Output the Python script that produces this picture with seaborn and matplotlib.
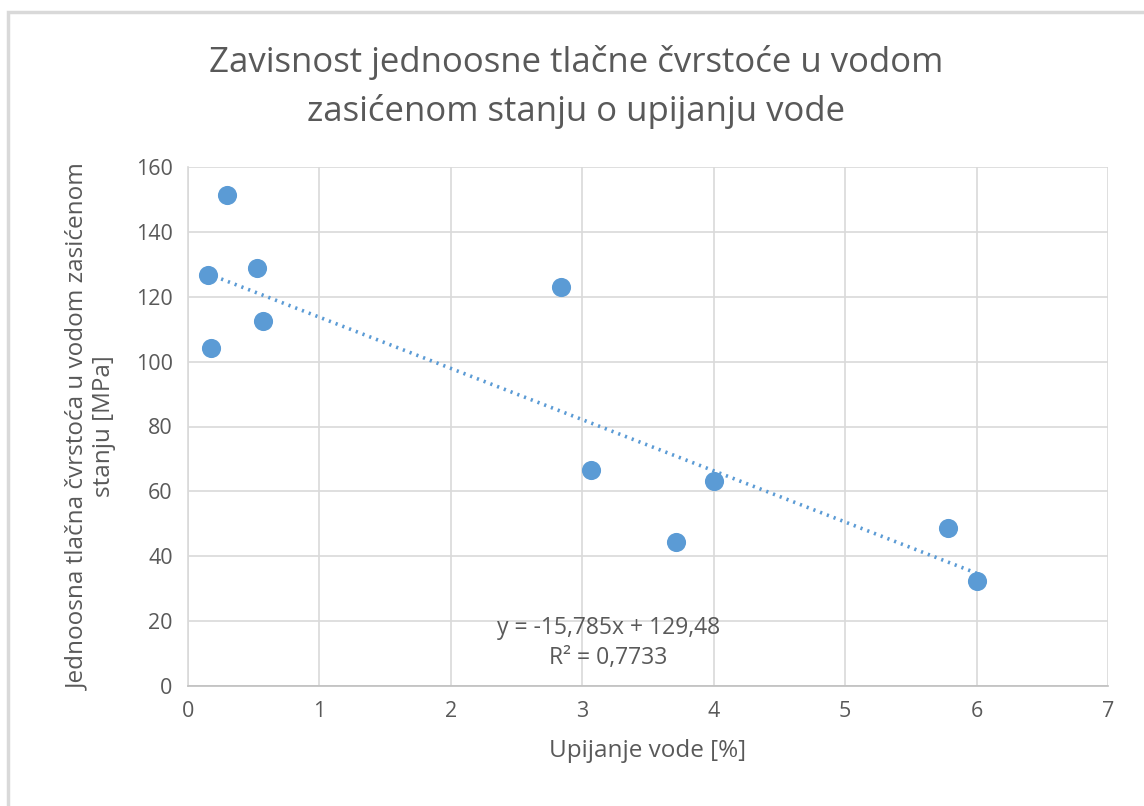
import numpy as np
import pandas as pd
import matplotlib
matplotlib.use("Agg")
import matplotlib.pyplot as plt
import seaborn as sns
from matplotlib.patches import Rectangle

# data
upijanje = [0.15, 0.30, 0.525, 0.57, 0.175, 2.84, 3.07, 3.71, 4.00, 5.78, 6.00]
cvrstoca = [126.7, 151.4, 128.9, 112.5, 104.2, 123.0, 66.6, 44.4, 63.2, 48.7, 32.4]

# linear trendline shown on chart
slope = -15.785
intercept = 129.48
r2 = 0.7733

title = "Zavisnost jednoosne tlačne čvrstoće u vodom\nzasićenom stanju o upijanju vode"
xlabel = "Upijanje vode [%]"
ylabel = "Jednoosna tlačna čvrstoća u vodom zasićenom\nstanju [MPa]"

df = pd.DataFrame({"x": upijanje, "y": cvrstoca})
blue = "#5b9bd5"
txt = "#595959"
grid = "#d9d9d9"

sns.set_theme(style="white")
plt.rcParams["font.family"] = ["Open Sans", "DejaVu Sans"]

fig = plt.figure(figsize=(11.44, 8.06), dpi=100)
ax = fig.add_axes([188 / 1144, 1 - 686 / 806, 920 / 1144, 519 / 806])

# outer chart frame (Excel style)
fig.patches.append(Rectangle((8 / 1144, -0.05), 1.2, 1 - 12 / 806 + 0.05,
                             transform=fig.transFigure, fill=False,
                             edgecolor="#d9d9d9", linewidth=2.5))

sns.scatterplot(data=df, x="x", y="y", ax=ax, s=190, color=blue,
                edgecolor=blue, linewidth=0, zorder=3)

# trendline across the data range
tx = np.array([min(upijanje), max(upijanje)])
ty = slope * tx + intercept
sns.lineplot(x=tx, y=ty, ax=ax, color=blue, linewidth=2.6,
             linestyle=(0, (0.6, 1.4)), zorder=2)

ax.set_xlim(0, 7)
ax.set_ylim(0, 160)
ax.set_xticks(range(0, 8))
ax.set_yticks(range(0, 161, 20))
ax.grid(True, color=grid, linewidth=1.2)
ax.set_axisbelow(True)
for side in ["top", "right"]:
    ax.spines[side].set_visible(False)
ax.spines["left"].set_color(grid)
ax.spines["bottom"].set_color("#bfbfbf")
ax.spines["left"].set_linewidth(1.2)
ax.spines["bottom"].set_linewidth(1.2)
ax.tick_params(axis="both", labelsize=15.5, colors=txt, length=0, pad=11)

ax.set_xlabel(xlabel, fontsize=17.5, color=txt, labelpad=12)
ax.set_ylabel(ylabel, fontsize=17.5, color=txt, labelpad=14, linespacing=1.1)

fig.text(576 / 1144, 1 - 87 / 806, title, ha="center", va="center",
         fontsize=25, color=txt, linespacing=1.5)

eq = f"y = {slope:.3f}x + {intercept:.2f}".replace(".", ",")
ax.text(3.2, 13.2, eq + "\n" + f"R² = {r2:.4f}".replace(".", ","),
        ha="center", va="center", fontsize=16.5, color=txt, linespacing=1.3)

fig.savefig("out.png", dpi=100, facecolor="white")
